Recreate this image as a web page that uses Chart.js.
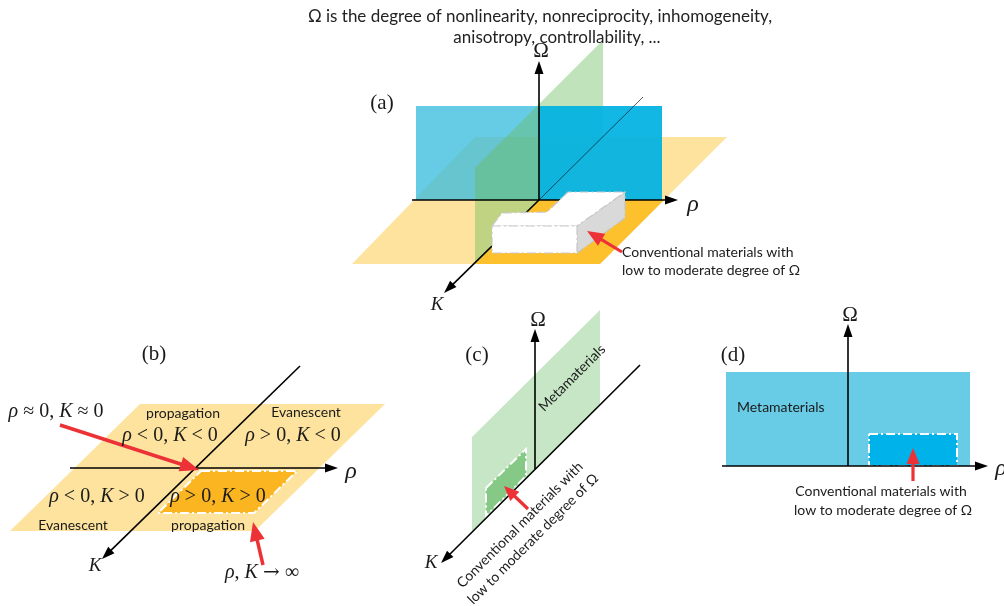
<!DOCTYPE html>
<html><head><meta charset="utf-8">
<script src="https://cdn.jsdelivr.net/npm/chart.js@4.4.1/dist/chart.umd.min.js"></script>
<style>html,body{margin:0;padding:0;background:#fff}#wrap{width:1004px;height:606px}</style>
</head><body><div id="wrap"><canvas id="c" width="1004" height="606"></canvas></div>
<script>
// ---------- data (diagram coordinates) ----------
// Panel (a)
const aOrangePlane   = [[475,137],[727,137],[600,264],[352,264]];
const aOrangeQuad    = [[539,200],[664,200],[600,264],[475,264]];
const aBlueLeft      = [[416,106],[539,106],[539,200],[416,200]];
const aBlueRight     = [[539,106],[662,106],[662,200],[539,200]];
const aGreenPlane    = [[475,168],[603,40],[603,136],[475,264]];
const aRhoAxis       = [[412,200],[678,200]];
const aOmegaAxis     = [[539,200],[539,61]];
const aKFront        = [[539,200],[444,293]];
const aKBack         = [[539,200],[643,97]];
const aBoxTop        = [[492,226],[502,213],[547,212],[568,192],[625,192],[577,226]];
const aBoxFront      = [[492,226],[577,226],[577,253],[492,253]];
const aBoxSide       = [[577,226],[625,192],[625,218],[577,253]];
const aPointer       = [[622,252],[587,231]];
// Panel (b)
const bOrangePlane   = [[140,404],[385,404],[255,531],[10,531]];
const bOrangeQuad    = [[201,471],[297,471],[254,513],[158,513]];
const bRhoAxis       = [[70,468],[338,468]];
const bKAxis         = [[300,366],[102,559]];
const bPointerZero   = [[60,425],[199,470]];
const bPointerInf    = [[263,565],[253,522]];
// Panel (c)
const cGreenPlane    = [[472,437],[600,310],[600,404],[472,532]];
const cGreenPatch    = [[486,488],[526,449],[526,476],[486,516]];
const cOmegaAxis     = [[535,469],[535,329]];
const cKAxis         = [[640,365],[441,563]];
const cPointer       = [[528,509],[504,486]];
// Panel (d)
const dBlueRect      = [[726,372],[970,372],[970,466],[726,466]];
const dInnerRect     = [[869,434],[957,434],[957,466],[869,466]];
const dOmegaAxis     = [[848,466],[848,324]];
const dRhoAxis       = [[722,466],[988,466]];
const dPointer       = [[913,481],[913,448]];

// ---------- text ----------
const titleLines   = ["Ω is the degree of nonlinearity, nonreciprocity, inhomogeneity,", "anisotropy, controllability, ..."];
const panelTags    = ["(a)", "(b)", "(c)", "(d)"];
const convLines    = ["Conventional materials with", "low to moderate degree of Ω"];
const regionWords  = ["propagation", "Evanescent", "Evanescent", "propagation"];
const metaWord     = "Metamaterials";
const mathZero     = [["ρ",1],[" ≈ 0, ",0],["K",1],[" ≈ 0",0]];
const mathNN       = [["ρ",1],[" < 0, ",0],["K",1],[" < 0",0]];
const mathPN       = [["ρ",1],[" > 0, ",0],["K",1],[" < 0",0]];
const mathNP       = [["ρ",1],[" < 0, ",0],["K",1],[" > 0",0]];
const mathPP       = [["ρ",1],[" > 0, ",0],["K",1],[" > 0",0]];
const mathInf      = [["ρ",1],[", ",0],["K",1],[" ",0],["→",2],[" ∞",0]];

// ---------- styling helpers ----------
const SANS = "Lato, 'Open Sans', sans-serif";
const SERIF = "'Liberation Serif', 'DejaVu Serif', serif";
const SYMB = "'DejaVu Serif', serif";
const RED = '#ec3237';
const DASHDOT = [9,3,2,3];

function pts(arr, close){
  const d = arr.map(p => ({x:p[0], y:p[1]}));
  if (close) d.push({x:arr[0][0], y:arr[0][1]});
  return d;
}
const layers = [];
function poly(arr, fill, stroke, sw, dash){
  layers.push({data:pts(arr,true), showLine:true, fill:'shape', backgroundColor:fill,
    borderColor: stroke || 'rgba(0,0,0,0)', borderWidth: stroke ? (sw||1) : 0,
    borderDash: dash || [], pointRadius:0, tension:0, borderJoinStyle:'miter'});
}
function line(arr, color, w, dash){
  layers.push({data:pts(arr,false), showLine:true, fill:false, borderColor:color,
    borderWidth:w, borderDash:dash||[], pointRadius:0, tension:0, borderCapStyle:'butt'});
}
function arrow(arr, color, w, hl, hw){
  const from = arr[0], to = arr[arr.length-1];
  const dx = to[0]-from[0], dy = to[1]-from[1], L = Math.hypot(dx,dy);
  const ux = dx/L, uy = dy/L;
  const bx = to[0]-ux*hl, by = to[1]-uy*hl;
  line([from,[bx+ux*2, by+uy*2]], color, w);
  poly([to,[bx-uy*hw/2, by+ux*hw/2],[bx+uy*hw/2, by-ux*hw/2]], color);
}

// ---------- panel (a) ----------
poly(aOrangePlane, '#fde39e');
poly(aOrangeQuad, '#fdc12e');
poly(aBlueLeft, 'rgba(51,187,222,0.75)');
poly(aGreenPlane, 'rgba(105,188,95,0.42)');
poly(aBlueRight, 'rgba(0,178,226,0.93)');
line(aKBack, 'rgba(0,25,45,0.7)', 1);
arrow(aRhoAxis, '#000', 1.6, 13, 9);
arrow(aOmegaAxis, '#000', 1.6, 13, 9);
arrow(aKFront, '#000', 1.6, 13, 9);
poly(aBoxSide, '#d9d9d9', '#c4c4c4', 1.2, DASHDOT);
poly(aBoxTop, '#ffffff', '#c8c8c8', 1.2, DASHDOT);
poly(aBoxFront, '#ffffff', '#c8c8c8', 1.2, DASHDOT);
arrow(aPointer, RED, 3.2, 17, 14);

// ---------- panel (b) ----------
poly(bOrangePlane, '#fde39e');
poly(bOrangeQuad, '#fbb520', '#ffffff', 2, DASHDOT);
arrow(bRhoAxis, '#000', 1.6, 13, 9);
arrow(bKAxis, '#000', 1.6, 13, 9);
arrow(bPointerZero, RED, 3.5, 19, 15);
arrow(bPointerInf, RED, 3.5, 19, 15);

// ---------- panel (c) ----------
poly(cGreenPlane, '#c6e6c6');
poly(cGreenPatch, '#86c986', '#ffffff', 2, DASHDOT);
arrow(cOmegaAxis, '#000', 1.6, 13, 9);
arrow(cKAxis, '#000', 1.6, 13, 9);
arrow(cPointer, RED, 3.2, 15, 13);

// ---------- panel (d) ----------
poly(dBlueRect, '#68cce6');
poly(dInnerRect, '#00b2ea', '#ffffff', 2, DASHDOT);
arrow(dOmegaAxis, '#000', 1.6, 13, 9);
arrow(dRhoAxis, '#000', 1.6, 13, 9);
arrow(dPointer, RED, 3.2, 16, 13);

layers.forEach((d,i) => { d.order = layers.length - i; });

// ---------- labels ----------
const S = 14;
const labels = [
  {t:titleLines[0], x:540, y:17, size:17, fam:SANS, color:'#222'},
  {t:titleLines[1], x:557, y:38, size:17, fam:SANS, color:'#222'},
  {t:panelTags[0], x:382, y:103, size:21, fam:SERIF},
  {t:'Ω', x:541, y:51, size:21, fam:SERIF},
  {t:[['ρ',1]], x:693, y:205, size:24, fam:SERIF},
  {t:[['K',1]], x:437, y:305, size:19, fam:SERIF},
  {t:convLines[0], x:622, y:252, size:S, fam:SANS, align:'left'},
  {t:convLines[1], x:622, y:270, size:S, fam:SANS, align:'left'},

  {t:panelTags[1], x:154, y:354, size:21, fam:SERIF},
  {t:mathZero, x:56, y:412, size:20, fam:SERIF},
  {t:regionWords[0], x:183, y:413, size:S, fam:SANS},
  {t:regionWords[1], x:306, y:412, size:S, fam:SANS},
  {t:mathNN, x:170, y:436, size:20, fam:SERIF},
  {t:mathPN, x:293, y:436, size:20, fam:SERIF},
  {t:mathNP, x:97, y:497, size:20, fam:SERIF},
  {t:mathPP, x:218, y:497, size:20, fam:SERIF},
  {t:regionWords[2], x:73, y:525, size:S, fam:SANS},
  {t:regionWords[3], x:208, y:525, size:S, fam:SANS},
  {t:[['ρ',1]], x:351, y:472, size:24, fam:SERIF},
  {t:[['K',1]], x:95, y:566, size:19, fam:SERIF},
  {t:mathInf, x:262, y:573, size:20, fam:SERIF},

  {t:panelTags[2], x:477, y:355, size:21, fam:SERIF},
  {t:'Ω', x:538, y:320, size:21, fam:SERIF},
  {t:metaWord, x:572, y:378, size:S, fam:SANS, rot:-45},
  {t:convLines[0], x:520, y:525, size:S, fam:SANS, rot:-45},
  {t:convLines[1], x:533, y:539, size:S, fam:SANS, rot:-45},
  {t:[['K',1]], x:431, y:563, size:19, fam:SERIF},

  {t:panelTags[3], x:733, y:355, size:21, fam:SERIF},
  {t:'Ω', x:850, y:315, size:21, fam:SERIF},
  {t:[['ρ',1]], x:1001, y:469, size:24, fam:SERIF},
  {t:metaWord, x:737, y:407, size:S, fam:SANS, align:'left'},
  {t:convLines[0], x:881, y:491, size:S, fam:SANS},
  {t:convLines[1], x:883, y:510, size:S, fam:SANS}
];

const textPlugin = {
  id:'diagramText',
  afterDatasetsDraw(chart){
    const ctx = chart.ctx, xs = chart.scales.x, ys = chart.scales.y;
    labels.forEach(L => {
      const px = xs.getPixelForValue(L.x), py = ys.getPixelForValue(L.y);
      const segs = Array.isArray(L.t) ? L.t : [[L.t,0]];
      ctx.save();
      ctx.translate(px, py);
      if (L.rot) ctx.rotate(L.rot*Math.PI/180);
      ctx.fillStyle = L.color || '#1a1a1a';
      ctx.textBaseline = 'middle';
      ctx.textAlign = 'left';
      const f = k => (k === 1 ? 'italic ' : '') + L.size + 'px ' + (k === 2 ? SYMB : L.fam);
      const w = segs.map(s => { ctx.font = f(s[1]); return ctx.measureText(s[0]).width; });
      const total = w.reduce((a,b)=>a+b, 0);
      let x0 = L.align === 'left' ? 0 : (L.align === 'right' ? -total : -total/2);
      segs.forEach((s,i) => { ctx.font = f(s[1]); ctx.fillText(s[0], x0, 0); x0 += w[i]; });
      ctx.restore();
    });
  }
};

new Chart(document.getElementById('c'), {
  type:'scatter',
  data:{datasets:layers},
  options:{
    responsive:false, animation:false, events:[],
    layout:{padding:0},
    clip:false,
    scales:{
      x:{type:'linear', min:0, max:1004, display:false},
      y:{type:'linear', min:0, max:606, reverse:true, display:false}
    },
    plugins:{legend:{display:false}, tooltip:{enabled:false}},
    elements:{point:{radius:0}}
  },
  plugins:[textPlugin]
});
</script></body></html>
